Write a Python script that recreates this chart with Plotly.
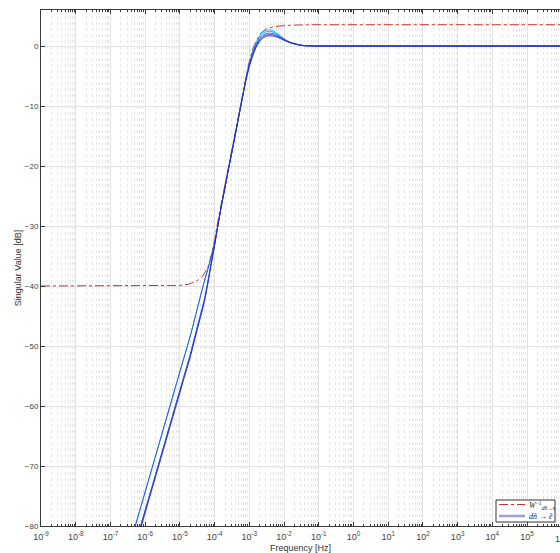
import plotly.graph_objects as go

# ---- data ----
freq_hz = [3.16e-7, 6.31e-7, 2.00e-6, 6.31e-6, 1.26e-5, 2.00e-5, 3.16e-5, 5.01e-5,
           6.31e-5, 7.94e-5, 1.00e-4, 1.26e-4, 1.58e-4, 2.00e-4, 2.51e-4, 3.16e-4,
           3.98e-4, 5.01e-4, 6.31e-4, 7.94e-4, 1.00e-3, 1.26e-3, 1.58e-3, 2.00e-3,
           2.51e-3, 3.16e-3, 3.98e-3, 5.01e-3, 6.31e-3, 7.94e-3, 1.00e-2, 1.26e-2,
           1.58e-2, 2.00e-2, 2.51e-2, 3.16e-2, 3.98e-2, 6.31e-2, 1.00e-1, 1.00e6]

# sensitivity curves dn -> e  (dB)
s_cyan1 = [-84.3, -78.3, -68.3, -58.3, -52.3, -48.3, -43.8, -39.3, -37.3, -35.2, -32.8, -29.7,
           -26.5, -23.5, -20.5, -17.6, -14.6, -11.6, -8.6,
           -5.4, -2.9, -0.9, 0.6, 1.7, 2.35, 2.65, 2.7, 2.5, 2.1, 1.65, 1.2, 0.85, 0.6, 0.4,
           0.25, 0.12, 0.05, 0.01, 0.0, 0.0]
s_cyan2 = [-87.4, -81.4, -71.4, -61.4, -55.4, -51.4, -46.9, -42.4, -39.5, -36.3, -33.1, -29.7,
           -26.5, -23.5, -20.5, -17.6, -14.6, -11.6, -8.6,
           -5.5, -3.0, -1.05, 0.4, 1.45, 2.1, 2.4, 2.45, 2.3, 1.95, 1.55, 1.15, 0.8, 0.55, 0.38,
           0.24, 0.12, 0.05, 0.01, 0.0, 0.0]
s_blue1 = [-84.3, -78.3, -68.3, -58.3, -52.3, -48.3, -43.8, -39.3, -37.3, -35.2, -32.8, -29.7,
           -26.5, -23.5, -20.5, -17.6, -14.6, -11.6, -8.6,
           -5.6, -3.15, -1.2, 0.2, 1.2, 1.8, 2.1, 2.15, 2.05, 1.8, 1.45, 1.1, 0.8, 0.55, 0.37,
           0.23, 0.12, 0.05, 0.01, 0.0, 0.0]
s_blue2 = [-87.4, -81.4, -71.4, -61.4, -55.4, -51.4, -46.9, -42.4, -39.5, -36.3, -33.1, -29.7,
           -26.5, -23.5, -20.5, -17.6, -14.6, -11.6, -8.6,
           -5.7, -3.3, -1.4, 0.0, 0.95, 1.55, 1.85, 1.9, 1.82, 1.62, 1.33, 1.02, 0.75, 0.52, 0.35,
           0.22, 0.11, 0.05, 0.01, 0.0, 0.0]
s_blue3 = [-87.8, -81.8, -71.8, -61.8, -55.8, -51.8, -47.3, -42.8, -39.8, -36.4, -33.2, -29.7,
           -26.5, -23.5, -20.5, -17.6, -14.6, -11.6, -8.6,
           -5.8, -3.45, -1.6, -0.2, 0.75, 1.35, 1.65, 1.7, 1.65, 1.48, 1.23, 0.95, 0.7, 0.5, 0.34,
           0.21, 0.11, 0.05, 0.01, 0.0, 0.0]

# inverse performance weight W^-1 (dB)
w_freq_hz = [1e-9, 1.00e-6, 1.00e-5, 1.78e-5, 3.16e-5, 4.47e-5, 6.31e-5, 7.94e-5, 1.00e-4,
             1.26e-4, 1.58e-4, 2.00e-4, 2.51e-4, 3.16e-4, 3.98e-4, 5.01e-4, 6.31e-4, 7.94e-4,
             1.00e-3, 1.26e-3, 1.58e-3, 2.00e-3, 2.51e-3, 3.16e-3, 3.98e-3, 5.01e-3, 6.31e-3,
             1.00e-2, 1.58e-2, 3.16e-2, 1.00e-1, 1.00e6]
w_inv_db = [-40.0, -40.0, -39.9, -39.7, -39.15, -38.4, -37.0, -35.0, -32.3, -29.0, -25.9,
            -23.0, -20.1, -17.2, -14.2, -11.1, -8.0, -5.0, -2.5, -0.5, 0.85, 1.9, 2.5, 2.85,
            3.05, 3.2, 3.3, 3.4, 3.47, 3.52, 3.55, 3.55]

xtick_exp = list(range(-9, 6))
xtick_labels = ["10<sup>%d</sup>" % e for e in xtick_exp]
ytick_vals = [-80, -70, -60, -50, -40, -30, -20, -10, 0]

W, H = 560, 553
ML, MR, MT, MB = 41, 0, 10, 27

fig = go.Figure()
fig.add_trace(go.Scatter(x=w_freq_hz, y=w_inv_db, mode="lines",
                         line=dict(color="#d43030", width=1, dash="dashdot"),
                         showlegend=False, hoverinfo="skip"))
curves = [(s_cyan1, "#00c0ff"), (s_cyan2, "#0098f0"),
          (s_blue1, "#3048dc"), (s_blue2, "#3232d2"), (s_blue3, "#2a2ac8")]
for ys, col in curves:
    fig.add_trace(go.Scatter(x=freq_hz, y=ys, mode="lines",
                             line=dict(color=col, width=0.9, shape="spline", smoothing=0.6),
                             showlegend=False, hoverinfo="skip"))

axis_col = "#3a3a3a"
fig.update_layout(
    width=W, height=H,
    margin=dict(l=ML, r=MR, t=MT, b=MB, pad=0),
    paper_bgcolor="white", plot_bgcolor="white",
    font=dict(family="Liberation Sans, Arial, sans-serif", size=8, color="#444444"),
    showlegend=False,
)
fig.update_xaxes(
    type="log", range=[-9, -9 + (W - ML - MR) / 34.72],
    tickvals=[10.0 ** e for e in xtick_exp], ticktext=xtick_labels,
    ticks="inside", ticklen=4, tickcolor=axis_col, tickwidth=1,
    showline=True, linecolor=axis_col, linewidth=1, mirror="ticks",
    showgrid=True, gridcolor="#e3e3e3", gridwidth=1,
    minor=dict(dtick="D1", ticks="inside", ticklen=2, tickcolor=axis_col,
               showgrid=True, gridcolor="#e6e6e6", griddash="dot", gridwidth=1),
    zeroline=False, tickfont=dict(size=9, color="#444444"), ticklabelstandoff=2,
    title=dict(text="Frequency [Hz]", font=dict(size=9, color="#333333"), standoff=5),
)
fig.update_yaxes(
    range=[-80, 6], tickvals=ytick_vals,
    ticks="inside", ticklen=4, tickcolor=axis_col, tickwidth=1,
    showline=True, linecolor=axis_col, linewidth=1, mirror=False,
    showgrid=True, gridcolor="#e3e3e3", gridwidth=1,
    zeroline=False, tickfont=dict(size=8, color="#444444"),
    title=dict(text="Singular Value [dB]", font=dict(size=9, color="#333333"), standoff=1),
)

# manual legend box (bottom right)
pw = W - ML - MR
ph = H - MT - MB
def px_x(p):
    return (p - ML) / pw
def px_y(p):
    return (H - MB - p) / ph

# partially visible 10^6 tick label at the clipped right edge
fig.add_annotation(xref="paper", yref="paper", x=px_x(561.5), y=0,
                   xanchor="center", yanchor="top", yshift=-4, showarrow=False,
                   text="10<sup>6</sup>", font=dict(size=9, color="#444444"))

fig.add_shape(type="rect", xref="paper", yref="paper",
              x0=px_x(496), x1=px_x(555), y0=px_y(522), y1=px_y(500),
              line=dict(color="#333333", width=1), fillcolor="white")
fig.add_shape(type="line", xref="paper", yref="paper",
              x0=px_x(499), x1=px_x(525), y0=px_y(504.5), y1=px_y(504.5),
              line=dict(color="#d43030", width=1, dash="dashdot"))
fig.add_shape(type="line", xref="paper", yref="paper",
              x0=px_x(499), x1=px_x(525), y0=px_y(516), y1=px_y(516),
              line=dict(color="#9a9de0", width=2.5))
fig.add_annotation(xref="paper", yref="paper", x=px_x(527), y=px_y(505),
                   xanchor="left", yanchor="middle", showarrow=False,
                   text="<i>W</i><sup>−1</sup><sub><i>dñ→e</i></sub>",
                   font=dict(family="Liberation Serif, serif", size=8, color="#222222"))
fig.add_annotation(xref="paper", yref="paper", x=px_x(527), y=px_y(516),
                   xanchor="left", yanchor="middle", showarrow=False,
                   text="<i>dñ</i> → <i>ẽ</i>",
                   font=dict(family="Liberation Serif, serif", size=8, color="#222222"))

fig.write_html("out.html")
